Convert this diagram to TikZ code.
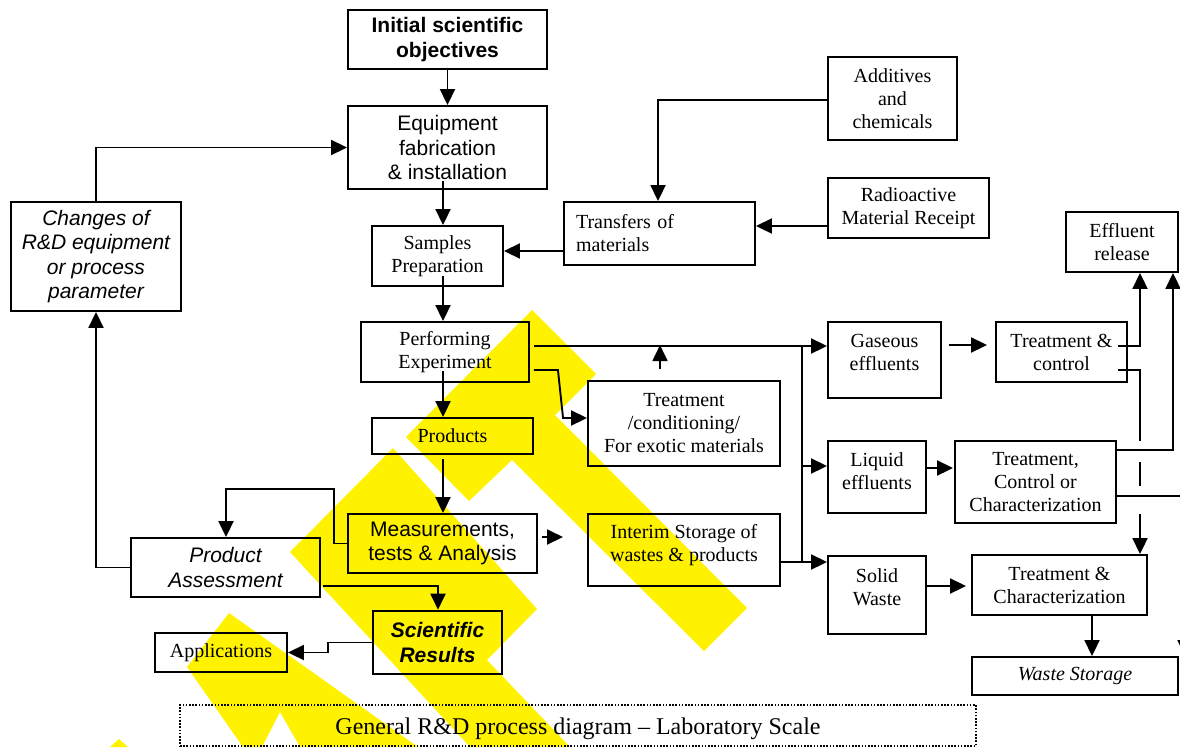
\documentclass[tikz,border=0pt]{standalone}
\usepackage{fontspec}
\setmainfont{Liberation Serif}
\setsansfont{Liberation Sans}
\usetikzlibrary{arrows.meta,calc}
\newcommand{\fserif}{\rmfamily\fontsize{20}{23}\selectfont}
\newcommand{\fsans}{\sffamily\fontsize{21}{24.5}\selectfont}
\begin{document}
\begin{tikzpicture}[x=1pt,y=-1pt,
  box/.style={draw, line width=1.9pt, inner sep=0pt, align=center, font=\fserif},
  sbox/.style={box, font=\fsans},
  lbl/.style={align=center, font=\fserif, inner sep=0pt},
  arr/.style={line width=1.9pt, -{Triangle[length=16pt,width=15pt]}},
  ln/.style={line width=1.9pt},
  wm/.style={fill=yellow, draw=none}]
\useasboundingbox (0,0) rectangle (1180,747);
\fill[white] (0,0) rectangle (1180,747);
% watermark
\fill[wm] (532,310) -- (596,374) -- (555,415) -- (747,608) -- (704,651) -- (512,460) -- (469,501) -- (406,437) -- cycle;
\fill[wm] (393,448) -- (537,609) -- (487,660) -- (570,747) -- (470,747) -- (290,552) -- cycle;
\fill[wm] (229,613) -- (187,667) -- (243,747) -- (262,747) -- (280,712) -- (300,747) -- (418,747) -- cycle;
\fill[wm] (110,747) -- (119,739) -- (128,747) -- cycle;
% nodes
\node[sbox, line width=2.3pt, font=\fsans\bfseries, minimum width=199, minimum height=59] (init) at (447.5,39.5) {Initial scientific\\objectives};
\node[sbox, minimum width=199, minimum height=83] (equip) at (447.5,147.5) {Equipment\\fabrication\\\& installation};
\node[sbox, font=\fsans\itshape, minimum width=170, minimum height=109] (changes) at (96,256.5) {Changes of\\R\&D equipment\\or process\\parameter};
\node[box, minimum width=131, minimum height=60] (samples) at (437.5,256) {Samples\\Preparation};
\node[box, align=left, inner xsep=12pt, text width=167pt, minimum height=63] (transfers) at (659.5,233.5) {Transfers of\\materials};
\node[box, minimum width=129, minimum height=83] (additives) at (892.5,98.5) {Additives\\and\\chemicals};
\node[box, minimum width=161, minimum height=60] (radio) at (908.5,208) {Radioactive\\Material Receipt};
\node[box, minimum width=112, minimum height=60] (effluent) at (1122,242) {Effluent\\release};
\node[box, minimum width=168, minimum height=60] (perform) at (445,352) {Performing\\Experiment};
\node[box, minimum width=161, minimum height=36] (products) at (452.5,436) {Products};
\node[box, minimum width=192, minimum height=85] (treatcond) at (684,423.5) {Treatment\\/conditioning/\\For exotic materials};
\node[box, minimum width=113, minimum height=76, label={[lbl, yshift=8pt]center:{Gaseous\\effluents}}] (gaseous) at (884.5,360) {};
\node[box, minimum width=131, minimum height=60] (tc1) at (1061.5,352) {Treatment \&\\control};
\node[box, minimum width=98, minimum height=72, label={[lbl, yshift=5.5pt]center:{Liquid\\effluents}}] (liquid) at (877,477) {};
\node[box, minimum width=161, minimum height=82] (tc2) at (1035.5,482) {Treatment,\\Control or\\Characterization};
\node[sbox, minimum width=189, minimum height=59] (meas) at (442.5,543.5) {Measurements,\\tests \& Analysis};
\node[box, minimum width=192, minimum height=72, label={[lbl, yshift=5pt]center:{Interim Storage of\\wastes \& products}}] (interim) at (684,550) {};
\node[box, minimum width=98, minimum height=78, label={[lbl, yshift=8pt]center:{Solid\\Waste}}] (solid) at (877,595) {};
\node[box, minimum width=175, minimum height=60] (tchar) at (1059.5,585) {Treatment \&\\Characterization};
\node[box, font=\fserif\itshape, minimum width=206, minimum height=38] (waste) at (1075,676) {Waste Storage};
\node[sbox, font=\fsans\itshape, minimum width=189, minimum height=59] (pa) at (225.5,567.5) {Product\\Assessment};
\node[sbox, line width=2.6pt, font=\fsans\bfseries\itshape, minimum width=129, minimum height=63] (sr) at (437.5,642.5) {Scientific\\Results};
\node[box, minimum width=132, minimum height=39] (apps) at (221,652.5) {Applications};
\node[draw, line width=1.2pt, dash pattern=on 1.6pt off 1.6pt, inner sep=0pt, minimum width=796, minimum height=41,
  label={[inner sep=0pt, yshift=-3pt, font=\rmfamily\fontsize{24}{27}\selectfont]center:General R\&D process diagram -- Laboratory Scale}] (caption) at (578,725.5) {};
% free ends
\coordinate (mtip) at (563,537);
% connectors
\draw[arr] (init.south) -- (equip.north);
\draw[arr] (changes.north) |- (equip.west);
\draw[arr] ($(equip.south)+(-4.5,-9)$) -- ($(samples.north)+(5.5,0)$);
\draw[arr] ($(transfers.west)+(0,17.5)$) -- ($(samples.east)+(0,-5)$);
\draw[arr] ($(additives.west)+(0,1.5)$) -| ($(transfers.north)+(-1.5,0)$);
\draw[arr] ($(radio.west)+(0,18)$) -- ($(transfers.east)+(0,-7.5)$);
\draw[arr] ($(samples.south)+(5.5,-11)$) -- ($(perform.north)+(-2,0)$);
\draw[arr] ($(perform.south)+(-2,-12)$) -- ($(products.north)+(-9.5,0)$);
\draw[arr] ($(perform.east)+(4,-6)$) -- ($(gaseous.west)+(0,-14)$);
\draw[ln] ($(gaseous.west)+(-25,-14)$) -- ($(solid.west)+(-25,-33)$);
\draw[arr] ($(liquid.west)+(-25,-11)$) -- ($(liquid.west)+(0,-11)$);
\draw[arr] ($(interim.east)+(0,12)$) -- ($(solid.west)+(0,-33)$);
\draw[arr] ($(treatcond.north)+(-24,-11)$) -- ($(treatcond.north)+(-24,-35)$);
\draw[arr] ($(perform.east)+(4,18)$) -- ++(24,0) -- ($(treatcond.west)+(-24,-5.5)$) -- ($(treatcond.west)+(0,-5.5)$);
\draw[arr] ($(products.south)+(-9.5,4)$) -- ($(meas.north)+(0.5,0)$);
\draw[arr] ($(meas.east)+(4,-6.5)$) -- (mtip);
\draw[arr] (meas.west) -- ++(-13,0) |- ($(pa.north)+(0.5,-48)$) -- ($(pa.north)+(0.5,0)$);
\draw[arr] (pa.west) -| (changes.south);
\draw[arr] ($(pa.east)+(2,18.5)$) -| ($(sr.north)+(0.5,0)$);
\draw[arr] (sr.west) -- ++(-44,0) |- (apps.east);
\draw[arr] ($(gaseous.east)+(7,-15)$) -- ($(tc1.west)+(-8,-7)$);
\draw[arr] ($(liquid.east)+(0,-9)$) -- ($(tc2.west)+(-1,-14)$);
\draw[arr] ($(solid.east)+(-1,-9)$) -- ($(tchar.west)+(-5,1)$);
\draw[arr] ($(tc1.east)+(-10,-6)$) -| ($(effluent.south)+(18,0)$);
\draw[arr] ($(tc2.east)+(0,-32)$) -| ($(effluent.south)+(51,0)$);
\draw[arr, dash pattern=on 93pt off 73pt on 200pt] ($(tc1.east)+(-10,18)$) -| ($(tchar.north)+(80.5,0)$);
\draw[ln] ($(tchar.north)+(80.5,-92)$) -- ($(tchar.north)+(80.5,-68)$);
\draw[arr] ($(tc2.east)+(0,14)$) -| ($(waste.north)+(110,0)$);
\draw[arr] ($(tchar.south)+(32.5,0)$) -- ($(waste.north)+(17,0)$);
\end{tikzpicture}
\end{document}
